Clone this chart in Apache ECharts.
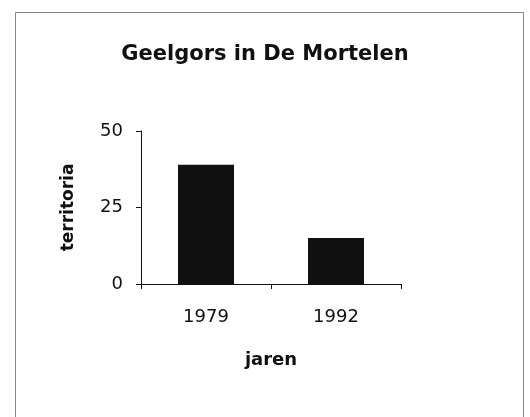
<!DOCTYPE html>
<html><head><meta charset="utf-8">
<script src="https://cdn.jsdelivr.net/npm/echarts@6/dist/echarts.min.js"></script>
<style>html,body{margin:0;padding:0;background:#fff}#c{width:530px;height:417px}</style>
</head><body><div id="c"></div>
<script>
const titleText = 'Geelgors in De Mortelen';
const categories = ['1979', '1992'];
const territoria = [39, 15];
const yTicks = [0, 25, 50];
const xName = 'jaren';
const yName = 'territoria';

const chart = echarts.init(document.getElementById('c'), null, {renderer: 'canvas'});
const font = 'DejaVu Sans, Liberation Sans, Arial, sans-serif';
chart.setOption({
  backgroundColor: '#fff',
  animation: false,
  graphic: [{
    type: 'rect', left: 13, top: 10, z: -1,
    shape: {x: 0, y: 0, width: 508, height: 420},
    style: {fill: 'none', stroke: '#888', lineWidth: 1}
  }],
  title: {
    text: titleText, left: 'center', top: 39,
    textStyle: {fontFamily: font, fontSize: 21, fontWeight: 'bold', color: '#111'}
  },
  grid: {left: 141, right: 129, top: 131, bottom: 133},
  xAxis: {
    type: 'category', data: categories,
    name: xName, nameLocation: 'middle', nameGap: 67,
    nameTextStyle: {fontFamily: font, fontSize: 18, fontWeight: 'bold', color: '#111'},
    axisLine: {lineStyle: {color: '#111', width: 1}},
    axisTick: {show: true, length: 5, alignWithLabel: false, lineStyle: {color: '#111'}},
    axisLabel: {fontFamily: font, fontSize: 18, color: '#111', margin: 24}
  },
  yAxis: {
    type: 'value', min: yTicks[0], max: yTicks[yTicks.length - 1], interval: 25,
    name: yName, nameLocation: 'middle', nameGap: 64,
    nameTextStyle: {fontFamily: font, fontSize: 17, fontWeight: 'bold', color: '#111'},
    axisLine: {show: true, lineStyle: {color: '#111', width: 1}},
    axisTick: {show: true, length: 5, lineStyle: {color: '#111'}},
    splitLine: {show: false},
    axisLabel: {fontFamily: font, fontSize: 18, color: '#111', margin: 18}
  },
  series: [{
    type: 'bar', data: territoria, barWidth: 56,
    itemStyle: {color: '#111'}
  }]
});
</script></body></html>
